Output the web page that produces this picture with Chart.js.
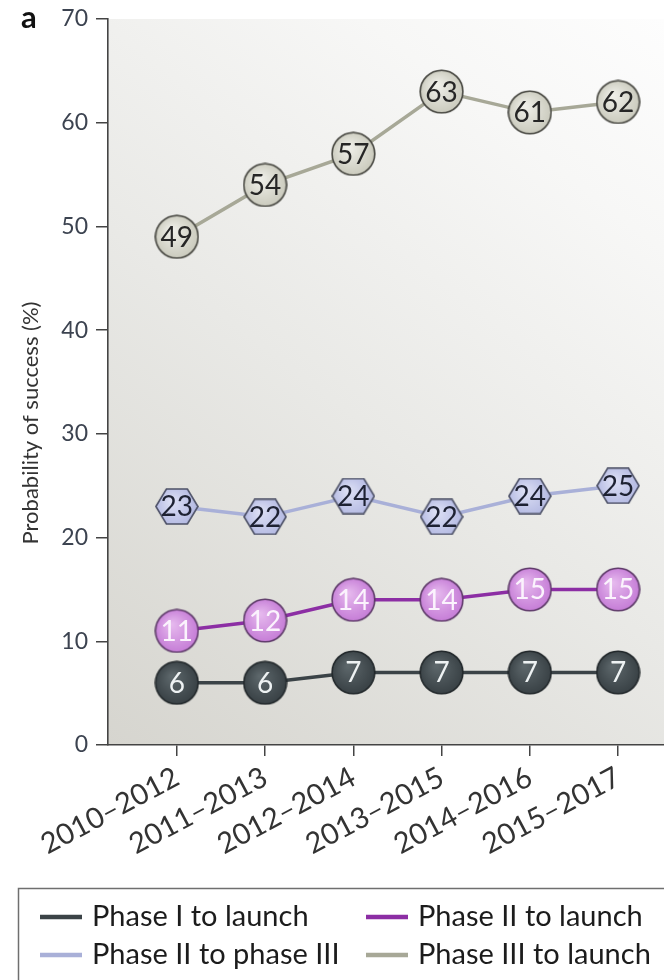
<!DOCTYPE html>
<html>
<head>
<meta charset="utf-8">
<style>
  html, body { margin: 0; padding: 0; background: #ffffff; }
  canvas { display: block; }
</style>
<script src="https://cdn.jsdelivr.net/npm/chart.js@4.4.1/dist/chart.umd.min.js"></script>
</head>
<body>
<canvas id="chart" width="664" height="980"></canvas>
<script>
// Rolling three-year windows
const periods = ['2010–2012', '2011–2013', '2012–2014', '2013–2015', '2014–2016', '2015–2017'];

// Probability of success (%) per window
const phase1ToLaunch  = [6, 6, 7, 7, 7, 7];
const phase2ToLaunch  = [11, 12, 14, 14, 15, 15];
const phase2ToPhase3  = [23, 22, 24, 22, 24, 25];
const phase3ToLaunch  = [49, 54, 57, 63, 61, 62];

const seriesNames = ['Phase I to launch', 'Phase II to launch', 'Phase II to phase III', 'Phase III to launch'];
const yTicks = [0, 10, 20, 30, 40, 50, 60, 70];

const FONT = 'Lato, "Open Sans", sans-serif';

// Marker sprites: shaded circles and a hexagon
function makeMarker(shape, w, h, inner, outer, stroke) {
  const c = document.createElement('canvas');
  c.width = w; c.height = h;
  const g = c.getContext('2d');
  const cx = w / 2, cy = h / 2;
  const grad = g.createRadialGradient(cx - w * 0.12, cy - h * 0.15, 1, cx, cy, Math.max(w, h) * 0.55);
  grad.addColorStop(0, inner);
  grad.addColorStop(1, outer);
  g.beginPath();
  if (shape === 'hex') {
    const rx = w / 2 - 1, ry = h / 2 - 1;
    g.moveTo(cx - rx, cy);
    g.lineTo(cx - rx / 2, cy - ry);
    g.lineTo(cx + rx / 2, cy - ry);
    g.lineTo(cx + rx, cy);
    g.lineTo(cx + rx / 2, cy + ry);
    g.lineTo(cx - rx / 2, cy + ry);
    g.closePath();
  } else {
    g.arc(cx, cy, w / 2 - 1.2, 0, Math.PI * 2);
  }
  g.fillStyle = grad;
  g.fill();
  g.lineWidth = 1.6;
  g.strokeStyle = stroke;
  g.stroke();
  return c;
}

const markers = [
  makeMarker('circle', 45, 45, '#5d676b', '#353d41', '#22282b'),
  makeMarker('circle', 45, 45, '#e6b9ee', '#c276d4', '#5e3a69'),
  makeMarker('hex', 44, 37, '#dde0f5', '#aeb4e0', '#4c5066'),
  makeMarker('circle', 45, 45, '#f0f0ea', '#c6c6b8', '#45453f')
];
const lineColours  = ['#3b4347', '#8c2ea4', '#a9b0d8', '#a7a897'];
const labelColours = ['#eef2f3', '#fbf3fd', '#1e2233', '#262626'];

const seriesValues = [phase1ToLaunch, phase2ToLaunch, phase2ToPhase3, phase3ToLaunch];

const datasets = seriesValues.map((vals, s) => ({
  label: seriesNames[s],
  data: vals.map((v, i) => ({ x: i, y: v })),
  borderColor: lineColours[s],
  backgroundColor: lineColours[s],
  borderWidth: 3.5,
  pointStyle: markers[s],
  pointRadius: 22,
  tension: 0,
  clip: false
}));

// Shaded panel behind the plot
const panelBackground = {
  id: 'panelBackground',
  beforeDraw(chart) {
    const { ctx, chartArea: a } = chart;
    const grad = ctx.createLinearGradient(a.left, a.bottom, a.right, a.top);
    grad.addColorStop(0, '#d6d5cf');
    grad.addColorStop(0.45, '#e9e9e6');
    grad.addColorStop(0.8, '#f7f7f6');
    grad.addColorStop(1, '#fdfdfd');
    ctx.save();
    ctx.fillStyle = grad;
    ctx.fillRect(a.left, a.top, a.right - a.left, a.bottom - a.top);
    ctx.restore();
  }
};

// Values written inside each marker
const markerLabels = {
  id: 'markerLabels',
  afterDatasetsDraw(chart) {
    const { ctx } = chart;
    ctx.save();
    ctx.font = '28px ' + FONT;
    ctx.textAlign = 'center';
    ctx.textBaseline = 'middle';
    chart.data.datasets.forEach((ds, s) => {
      const meta = chart.getDatasetMeta(s);
      ctx.fillStyle = labelColours[s];
      meta.data.forEach((pt, i) => {
        ctx.fillText(String(ds.data[i].y), pt.x, pt.y + 1);
      });
    });
    ctx.restore();
  }
};

// Panel letter, axis title and the boxed two-column legend
const annotations = {
  id: 'annotations',
  afterDraw(chart) {
    const { ctx } = chart;
    ctx.save();
    ctx.fillStyle = '#111111';
    ctx.font = 'bold 31px ' + FONT;
    ctx.textAlign = 'left';
    ctx.textBaseline = 'alphabetic';
    ctx.fillText('a', 21, 28);

    ctx.translate(31, 423);
    ctx.rotate(-Math.PI / 2);
    ctx.font = '22px ' + FONT;
    ctx.fillStyle = '#333333';
    ctx.textAlign = 'center';
    ctx.textBaseline = 'middle';
    ctx.fillText('Probability of success (%)', 0, 0);
    ctx.restore();

    ctx.save();
    ctx.strokeStyle = '#6f6f6f';
    ctx.lineWidth = 1.5;
    ctx.strokeRect(18.5, 888.5, 700, 120);
    const cols = [40, 366];
    const rows = [917, 955];
    ctx.font = '29px ' + FONT;
    ctx.textBaseline = 'middle';
    ctx.textAlign = 'left';
    chart.data.datasets.forEach((ds, s) => {
      const x = cols[s % 2], y = rows[Math.floor(s / 2)];
      ctx.strokeStyle = lineColours[s];
      ctx.lineWidth = 4.5;
      ctx.beginPath();
      ctx.moveTo(x, y);
      ctx.lineTo(x + 42, y);
      ctx.stroke();
      ctx.fillStyle = '#1c1c1c';
      ctx.fillText(ds.label, x + 52, y);
    });
    ctx.restore();
  }
};

new Chart(document.getElementById('chart'), {
  type: 'line',
  data: { datasets },
  options: {
    responsive: false,
    devicePixelRatio: 1,
    animation: false,
    events: [],
    layout: { autoPadding: false, padding: { top: 19, right: 0, bottom: 0, left: 0 } },
    plugins: { legend: { display: false }, tooltip: { enabled: false } },
    scales: {
      x: {
        type: 'linear',
        min: -0.78,
        max: 5.52,
        afterBuildTicks(scale) { scale.ticks = periods.map((p, i) => ({ value: i })); },
        afterFit(scale) {
          scale.height = 235;
          scale.paddingLeft = 0;
          scale.paddingRight = 0;
        },
        ticks: {
          callback: (v) => periods[v],
          minRotation: 28,
          maxRotation: 28,
          autoSkip: false,
          padding: 4,
          color: '#333333',
          font: { family: FONT, size: 29 }
        },
        grid: { drawOnChartArea: false, drawTicks: true, tickLength: 11, color: '#444444', lineWidth: 1.5 },
        border: { display: true, color: '#444444', width: 1.6 }
      },
      y: {
        min: 0,
        max: 70,
        afterBuildTicks(scale) { scale.ticks = yTicks.map(v => ({ value: v })); },
        afterFit(scale) {
          scale.width = 108;
          scale.paddingTop = 0;
          scale.paddingBottom = 0;
        },
        ticks: {
          padding: 8,
          color: '#3c4350',
          font: { family: FONT, size: 23 }
        },
        grid: { drawOnChartArea: false, drawTicks: true, tickLength: 12, color: '#444444', lineWidth: 1.5 },
        border: { display: true, color: '#444444', width: 1.6 }
      }
    }
  },
  plugins: [panelBackground, markerLabels, annotations]
});
</script>
</body>
</html>
